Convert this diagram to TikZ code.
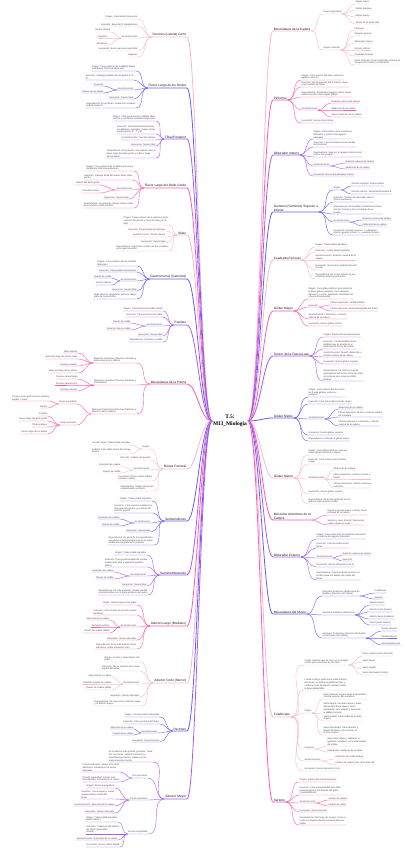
\documentclass[tikz,border=0pt]{standalone}
\usepackage{fontspec}
\setmainfont{Liberation Sans}
\newfontfamily\titlefont{Liberation Serif}
\usetikzlibrary{positioning, calc}

\definecolor{rosa}{HTML}{F5B8D4}
\definecolor{fucsia}{HTML}{FF5AAE}
\definecolor{morado}{HTML}{A65BF2}
\definecolor{violeta}{HTML}{6A5CF7}

% hoja a la izquierda / derecha: nombre, padre, posicion, color, texto
\newcommand{\izq}[5]{%
  \node[hoja, anchor=south east] (#1) at (#3) {#5};
  \draw[enlace=#4] (#2.south west) to[out=180, in=0] (#1.south east) -- (#1.south west);}
\newcommand{\der}[5]{%
  \node[hoja, anchor=south west] (#1) at (#3) {#5};
  \draw[enlace=#4] (#2.south east) to[out=0, in=180] (#1.south west) -- (#1.south east);}
% rama principal: nombre, y, color, texto
\newcommand{\ramaizq}[4]{%
  \node[rama, anchor=south east] (#1) at (187,#2) {#4};
  \draw[tronco=#3] (root.west) .. controls +(-12,0) and +(10,0) .. (#1.south east) -- (#1.south west);}
\newcommand{\ramader}[4]{%
  \node[rama, anchor=south west] (#1) at (273,#2) {#4};
  \draw[tronco=#3] (root.east) .. controls +(12,0) and +(-10,0) .. (#1.south west) -- (#1.south east);}

\begin{document}
\begin{tikzpicture}[x=1pt, y=-1pt,
    hoja/.style={inner sep=0.4pt, align=left, text=black!72, font=\fontsize{2.3}{2.8}\selectfont},
    rama/.style={inner sep=0.6pt, align=left, text=black!90, font=\fontsize{3.2}{3.8}\selectfont},
    enlace/.style={draw=#1, line width=0.4pt},
    tronco/.style={draw=#1, line width=0.8pt}
]
\fill[white] (0,0) rectangle (404,848);
\useasboundingbox (0,0) rectangle (404,848);

% Centro
\node[font=\titlefont\bfseries\fontsize{5.5}{6.6}\selectfont, align=center, inner sep=1pt] (root) at (230,421) {T.5:\\MI3\_Miología};

% ---------------- Lado izquierdo ----------------
% Peroneo corto
\ramaizq{pc}{37}{rosa}{Peroneo (Lateral) Corto}
\izq{pc1}{pc}{138,19}{rosa}{Origen: Cara lateral del peroné}
\izq{pc2}{pc}{138,26}{rosa}{Inserción: Base del 5º metatarsiano}
\izq{pc3}{pc}{138,38}{rosa}{Acción/Función}
\izq{pc3a}{pc3}{111,32}{rosa}{Flexión plantar}
\izq{pc3b}{pc3}{108,38}{rosa}{Eversión}
\izq{pc3c}{pc3}{108,45}{rosa}{Abducción}
\izq{pc4}{pc}{138,51}{rosa}{Inervación: Nervio peroneo superficial}
\izq{pc5}{pc}{138,57}{rosa}{Irrigación}

% Flexor largo de los dedos
\ramaizq{fd}{88}{violeta}{Flexor Largo de los Dedos}
\izq{fd1}{fd}{136,71}{violeta}{Origen: Cara posterior de la diáfisis tibial y\\membrana interósea adyacente}
\izq{fd2}{fd}{134,80}{violeta}{Inserción: Falanges distales de los dedos 2º al\\5º}
\izq{fd3}{fd}{134,90}{violeta}{Acción/Función}
\izq{fd3a}{fd3}{104,86}{violeta}{Inversión}
\izq{fd3b}{fd3}{104,93}{violeta}{Flexión de los dedos}
\izq{fd4}{fd}{134,99}{violeta}{Inervación: Nervio tibial}
\izq{fd5}{fd}{136,108}{violeta}{Dependencia: Es profundo, medial con respecto\\al tibial posterior}

% Tibial posterior
\ramaizq{tp}{139}{morado}{Tibial Posterior}
\izq{tp1}{tp}{156,121}{morado}{Origen: Cara posterior de la diáfisis tibial,\\peroné y membrana interósea adyacente}
\izq{tp2}{tp}{156,134}{morado}{Inserción: Tuberosidad del navicular,\\cuneiformes, cuboides y bases de los\\metatarsianos 2º, 3º y 4º}
\izq{tp3}{tp}{156,140}{morado}{Acción/Función: Inversión del pie}
\izq{tp4}{tp}{156,146}{morado}{Inervación: Nervio tibial}
\izq{tp5}{tp}{156,158}{morado}{Dependencia: Es profundo, encontrado entre el\\flexor largo del dedo gordo y el flexor largo\\de los dedos}

% Flexor largo del dedo gordo
\ramaizq{fg}{188}{fucsia}{Flexor Largo del Dedo Gordo}
\izq{fg1}{fg}{134,171}{fucsia}{Origen: Cara posterior de la diáfisis peronea y\\membrana interósea adyacente}
\izq{fg2}{fg}{133,180}{fucsia}{Inserción: Falange distal del primer dedo (dedo\\gordo)}
\izq{fg3}{fg}{133,190}{fucsia}{Acción/Función}
\izq{fg3a}{fg3}{100,185}{fucsia}{Flexión del dedo gordo}
\izq{fg3b}{fg3}{100,193}{fucsia}{Inversión del pie}
\izq{fg4}{fg}{129,199}{fucsia}{Inervación: Nervio tibial}
\izq{fg5}{fg}{134,208}{fucsia}{Dependencia: Es profundo, lateral al flexor largo\\de los dedos y tibial posterior}

% Soleo
\ramaizq{so}{235}{rosa}{Sóleo}
\izq{so1}{so}{169,225}{rosa}{Origen: Cara posterior de la cabeza y tercio\\superior del peroné y línea del sóleo en la\\tibia}
\izq{so2}{so}{166,231}{rosa}{Inserción: Tuberosidad del calcáneo}
\izq{so3}{so}{166,237}{rosa}{Acción/Función: Flexión plantar}
\izq{so4}{so}{166,243}{rosa}{Inervación: Nervio tibial}
\izq{so5}{so}{169,251}{rosa}{Dependencia: Superficial, oculto casi por completo\\por el gastrocnemio}

% Gastrocnemio
\ramaizq{ga}{279}{violeta}{Gastrocnemio (Gemelos)}
\izq{ga1}{ga}{137,266}{violeta}{Origen: Cara posterior de los cóndilos\\femorales}
\izq{ga2}{ga}{137,272}{violeta}{Inserción: Tuberosidad del calcáneo}
\izq{ga3}{ga}{137,281}{violeta}{Acción/Función}
\izq{ga3a}{ga3}{112,278}{violeta}{Flexión de rodilla}
\izq{ga3b}{ga3}{112,285}{violeta}{Flexión plantar}
\izq{ga4}{ga}{137,291}{violeta}{Inervación: Nervio tibial}
\izq{ga5}{ga}{137,299}{violeta}{Dependencia: Superficial, forma la mayor\\parte de la pantorrilla}

% Popliteo
\ramaizq{po}{325}{morado}{Poplíteo}
\izq{po1}{po}{163,311}{morado}{Origen: Cara lateral del cóndilo lateral}
\izq{po2}{po}{163,317}{morado}{Inserción: Cara posterior de la tibia}
\izq{po3}{po}{163,326}{morado}{Acción/Función}
\izq{po3a}{po3}{131,323}{morado}{Flexión de rodilla}
\izq{po3b}{po3}{131,330}{morado}{Rotación interna rodilla}
\izq{po4}{po}{163,336}{morado}{Inervación: Nervio tibial}
\izq{po5}{po}{163,342}{morado}{Dependencia: Profundo a rodilla}

% Musculatura de la pierna
\ramaizq{mp}{384}{fucsia}{Musculatura de la Pierna}
\izq{mp1}{mp}{137,363}{fucsia}{Músculos Anteriores (Flexores Dorsales y\\Extensores de los Dedos)}
\izq{mp1a}{mp1}{78,353}{fucsia}{Tibial anterior}
\izq{mp1b}{mp1}{78,359}{fucsia}{Extensor largo del primer dedo}
\izq{mp1c}{mp1}{78,366}{fucsia}{Peroneo anterior}
\izq{mp1d}{mp1}{78,373}{fucsia}{Extensor largo de los dedos}
\izq{mp2}{mp}{137,385}{fucsia}{Músculos Laterales (Flexores Plantares y\\Pronadores)}
\izq{mp2a}{mp2}{78,379}{fucsia}{Peroneo lateral largo}
\izq{mp2b}{mp2}{78,385}{fucsia}{Peroneo lateral corto}
\izq{mp2c}{mp2}{78,391}{fucsia}{Peroneo anterior}
\izq{mp3}{mp}{137,414}{fucsia}{Músculos Posteriores (Flexores Plantares y\\Flexores de los Dedos)}
\izq{mp3a}{mp3}{77,404}{fucsia}{Grupo superficial}
\izq{mp3a1}{mp3a}{50,401}{fucsia}{Tríceps sural: gastrocnemio lateral y\\medial + sóleo}
\izq{mp3a2}{mp3a}{48,408}{fucsia}{Plantar}
\izq{mp3b}{mp3}{77,425}{fucsia}{Grupo profundo}
\izq{mp3b1}{mp3b}{48,416}{fucsia}{Poplíteo}
\izq{mp3b2}{mp3b}{48,421}{fucsia}{Flexor largo del dedo gordo}
\izq{mp3b3}{mp3b}{48,427}{fucsia}{Tibial posterior}
\izq{mp3b4}{mp3b}{48,434}{fucsia}{Flexor largo de los dedos}

% Biceps femoral
\ramaizq{bf}{469}{rosa}{Bíceps Femoral}
\izq{bf1}{bf}{150,449}{rosa}{Origen}
\izq{bf1a}{bf1}{131,445}{rosa}{Porción larga: Tuberosidad isquiática}
\izq{bf1b}{bf1}{131,454}{rosa}{Cabeza corta: labio lateral de la línea\\áspera}
\izq{bf2}{bf}{151,460}{rosa}{Inserción: Cabeza del peroné}
\izq{bf3}{bf}{150,470}{rosa}{Acción/Función}
\izq{bf3a}{bf3}{121,466}{rosa}{Extensión de cadera}
\izq{bf3b}{bf3}{121,473}{rosa}{Flexión de rodilla}
\izq{bf4}{bf}{153,481}{rosa}{Inervación: Nervio ciático (tibial y\\peroneo común)}
\izq{bf5}{bf}{154,491}{rosa}{Dependencia: Región lateral del\\compartimento posterior}

% Semitendinoso
\ramaizq{st}{521}{violeta}{Semitendinoso}
\izq{st1}{st}{152,501}{violeta}{Origen: Tuberosidad isquiática}
\izq{st2}{st}{153,513}{violeta}{Inserción: Cara superior-medial de la\\tibia (pata de ganso), por detrás del\\sartorio y grácil}
\izq{st3}{st}{151,523}{violeta}{Acción/Función}
\izq{st3a}{st3}{120,519}{violeta}{Extensión de cadera}
\izq{st3b}{st3}{120,526}{violeta}{Flexión de rodilla}
\izq{st4}{st}{151,532}{violeta}{Inervación: Nervio tibial}
\izq{st5}{st}{154,545}{violeta}{Dependencia: Es parte de los isquiotibiales,\\superficial al semimembranoso en la región\\medial del compartimento posterior}

% Semimembranoso
\ramaizq{sm}{575}{morado}{Semimembranoso}
\izq{sm1}{sm}{147,555}{morado}{Origen: Tuberosidad isquiática}
\izq{sm2}{sm}{148,567}{morado}{Inserción: Cara posteromedial del cóndilo\\medial de la tibia y ligamento poplíteo\\oblicuo}
\izq{sm3}{sm}{147,576}{morado}{Acción/Función}
\izq{sm3a}{sm3}{114,572}{morado}{Extensión de cadera}
\izq{sm3b}{sm3}{114,579}{morado}{Flexión de rodilla}
\izq{sm4}{sm}{147,586}{morado}{Inervación: Nervio tibial}
\izq{sm5}{sm}{148,595}{morado}{Dependencia: Es más profundo, situado medial\\al semitendinoso en la parte posterior del muslo}

% Aductor largo
\ramaizq{al}{626}{fucsia}{Aductor Largo (Mediano)}
\izq{al1}{al}{137,605}{fucsia}{Origen: Rama superior del pubis}
\izq{al2}{al}{137,615}{fucsia}{Inserción: Tercio medio de la línea áspera\\del fémur}
\izq{al3}{al}{137,627}{fucsia}{Acción/Función}
\izq{al3a}{al3}{110,620}{fucsia}{Aducción de la cadera}
\izq{al3b}{al3}{110,627}{fucsia}{Rotación externa}
\izq{al3c}{al3}{110,633}{fucsia}{Flexión de cadera (débil)}
\izq{al4}{al}{137,640}{fucsia}{Inervación: Nervio obturador}
\izq{al5}{al}{137,649}{fucsia}{Dependencia: Es el más anterior de los\\aductores, cubre al aductor corto}

% Aductor corto
\ramaizq{ac}{683}{rosa}{Aductor Corto (Menor)}
\izq{ac1}{ac}{140,662}{rosa}{Origen: Cuerpo y rama inferior del\\pubis}
\izq{ac2}{ac}{140,671}{rosa}{Inserción: Tercio superior de la línea\\áspera del fémur}
\izq{ac3}{ac}{140,684}{rosa}{Acción/Función}
\izq{ac3a}{ac3}{112,677}{rosa}{Aducción de la cadera}
\izq{ac3b}{ac3}{112,684}{rosa}{Rotación externa de cadera}
\izq{ac3c}{ac3}{112,690}{rosa}{Flexión de cadera (débil)}
\izq{ac4}{ac}{140,697}{rosa}{Inervación: Nervio obturador}
\izq{ac5}{ac}{141,706}{rosa}{Dependencia: Se sitúa entre el aductor largo\\y el aductor mayor}

% Pectineo
\ramaizq{pe}{731}{violeta}{Pectíneo}
\izq{pe1}{pe}{160,717}{violeta}{Origen: Cresta pectínea del pubis}
\izq{pe2}{pe}{160,724}{violeta}{Inserción: Línea pectínea del fémur}
\izq{pe3}{pe}{158,733}{violeta}{Acción/Función}
\izq{pe3a}{pe3}{134,729}{violeta}{Aducción de la cadera}
\izq{pe3b}{pe3}{134,735}{violeta}{Flexión de la cadera}
\izq{pe4}{pe}{160,742}{violeta}{Inervación: Nervio femoral}

% Aductor mayor
\ramaizq{am}{799}{morado}{Aductor Mayor}
\izq{am1}{am}{153,762}{morado}{Es el aductor más grande y potente. Tiene\\dos porciones: aductora (anterior) e\\isquiotibial (posterior), unidas en una\\masa muscular común}
\izq{am2}{am}{148,778}{morado}{Dos porciones}
\izq{am2a}{am2}{120,772}{morado}{Porción aductora: similar a los otros\\aductores, inervada por el nervio\\obturador}
\izq{am2b}{am2}{120,782}{morado}{Porción isquiotibial: similar a los\\isquiotibiales, inervada por el ciático}
\izq{am3}{am}{148,800}{morado}{Porción Aductora}
\izq{am3a}{am3}{115,788}{morado}{Origen: Rama isquiopúbica}
\izq{am3b}{am3}{115,799}{morado}{Inserción: Línea áspera y cresta\\supracondílea medial del\\fémur}
\izq{am3c}{am3}{115,806}{morado}{Acción/Función: Aducción de la cadera}
\izq{am3d}{am3}{115,813}{morado}{Inervación: Nervio obturador}
\izq{am4}{am}{148,834}{morado}{Porción Isquiotibial}
\izq{am4a}{am4}{118,822}{morado}{Origen: Tuberosidad isquiática\\(parte inferior)}
\izq{am4b}{am4}{120,834}{morado}{Inserción: Tubérculo del aductor\\del fémur (epicóndilo\\medial)}
\izq{am4c}{am4}{118,840}{morado}{Acción/Función: Extensión de la cadera}
\izq{am4d}{am4}{120,847}{morado}{Inervación: Nervio ciático (tibial)}

% ---------------- Lado derecho ----------------
% Musculatura de la cadera
\ramader{mc}{31}{rosa}{Musculatura de la Cadera}
\der{mc1}{mc}{323,14}{rosa}{Grupo Superficial}
\der{mc1a}{mc1}{355,4}{rosa}{Glúteo mayor}
\der{mc1b}{mc1}{355,10}{rosa}{Glúteo mediano}
\der{mc1c}{mc1}{355,17}{rosa}{Glúteo menor}
\der{mc1d}{mc1}{355,24}{rosa}{Tensor de la fascia lata}
\der{mc2}{mc}{323,50}{rosa}{Grupo Profundo}
\der{mc2a}{mc2}{354,30}{rosa}{Piriforme}
\der{mc2b}{mc2}{354,36}{rosa}{Gemelo superior}
\der{mc2c}{mc2}{354,43}{rosa}{Obturador interno}
\der{mc2d}{mc2}{354,50}{rosa}{Gemelo inferior}
\der{mc2e}{mc2}{354,56}{rosa}{Cuadrado femoral}
\der{mc2f}{mc2}{354,65}{rosa}{Otros músculos (como obturador externo) se\\incluyen por función y localización}

% Piriforme
\ramader{pi}{100}{fucsia}{Piriforme}
\der{pi1}{pi}{301,80}{fucsia}{Origen: Cara anterior del sacro (entre los\\agujeros sacros)}
\der{pi2}{pi}{301,87}{fucsia}{Inserción: Borde superior del trocánter mayor\\(cara medial) del fémur}
\der{pi3}{pi}{301,97}{fucsia}{Dependencia: Atraviesa el agujero ciático mayor;\\referencia clave de la región glútea}
\der{pi4}{pi}{301,110}{fucsia}{Acción/Función}
\der{pi4a}{pi4}{331,103}{fucsia}{Rotación externa de cadera}
\der{pi4b}{pi4}{331,110}{fucsia}{Abducción de la cadera}
\der{pi4c}{pi4}{331,117}{fucsia}{Ligera extensión de la cadera}
\der{pi5}{pi}{301,123}{fucsia}{Inervación: Nervio del piriforme}

% Obturador interno
\ramader{oi}{155}{morado}{Obturador Interno}
\der{oi1}{oi}{313,139}{morado}{Origen: Cara interna de la membrana\\obturatriz y contorno del agujero\\obturador}
\der{oi2}{oi}{313,147}{morado}{Inserción: Fosa trocantérea (cara medial\\del trocánter)}
\der{oi3}{oi}{313,157}{morado}{Dependencia: Sale por el agujero ciático menor\\junto a los gemelos}
\der{oi4}{oi}{313,166}{morado}{Acción/Función}
\der{oi4a}{oi4}{345,163}{morado}{Rotación externa de cadera}
\der{oi4b}{oi4}{345,169}{morado}{Abducción de la cadera}
\der{oi5}{oi}{313,176}{morado}{Inervación: Nervio del obturador interno}

% Gemelos
\ramader{ge}{212}{violeta}{Gemelos (Géminos) Superior e\\Inferior}
\der{ge1}{ge}{333,190}{violeta}{Origen}
\der{ge1a}{ge1}{351,186}{violeta}{Gemelo superior: espina ciática}
\der{ge1b}{ge1}{351,194}{violeta}{Gemelo inferior: tuberosidad isquiática}
\der{ge2}{ge}{333,202}{violeta}{Inserción: Tendón del obturador interno\\(fosa trocantérea)}
\der{ge3}{ge}{333,214}{violeta}{Dependencia: Acompañan al obturador interno,\\uno por encima y otro por debajo de su\\tendón}
\der{ge4}{ge}{333,222}{violeta}{Acción/Función}
\der{ge4a}{ge4}{362,220}{violeta}{Rotación externa de cadera}
\der{ge4b}{ge4}{362,226}{violeta}{Abducción de la cadera}
\der{ge5}{ge}{333,235}{violeta}{Inervación: Gemelo superior: n. obturador\\interno; gemelo inferior: n. cuadrado femoral}

% Cuadrado femoral
\ramader{cf}{260}{rosa}{Cuadrado Femoral}
\der{cf1}{cf}{315,247}{rosa}{Origen: Tuberosidad isquiática}
\der{cf2}{cf}{315,252}{rosa}{Inserción: Cresta intertrocantérea}
\der{cf3}{cf}{315,260}{rosa}{Acción/Función: Rotación externa de la\\cadera}
\der{cf4}{cf}{315,270}{rosa}{Inervación: Nervio del cuadrado femoral\\(L4-S1)}
\der{cf5}{cf}{315,279}{rosa}{Dependencia: Es el más inferior de los\\rotadores externos profundos}

% Gluteo mayor
\ramader{gm}{311}{fucsia}{Glúteo Mayor}
\der{gm1}{gm}{308,299}{fucsia}{Origen: Cara glútea del ilion (por detrás de\\la línea glútea posterior), cara posterior\\del sacro y cóccix, ligamento sacrotuberoso\\y fascia toracolumbar}
\der{gm2}{gm}{308,307}{fucsia}{Inserción}
\der{gm2a}{gm2}{330,305}{fucsia}{Fibras superiores: cintilla iliotibial}
\der{gm2b}{gm2}{330,311}{fucsia}{Fibras inferiores: tuberosidad glútea del fémur}
\der{gm3}{gm}{308,319}{fucsia}{Acción/Función: Extensión y rotación\\externa de la cadera}
\der{gm4}{gm}{308,326}{fucsia}{Inervación: Nervio glúteo inferior}

% Tensor de la fascia lata
\ramader{tf}{356}{morado}{Tensor de la Fascia Lata}
\der{tf1}{tf}{323,337}{morado}{Origen: Espina ilíaca anterosuperior}
\der{tf2}{tf}{323,349}{morado}{Inserción: Cintilla iliotibial (tracto\\iliotibial) que se inserta en el\\tubérculo de Gerdy de la tibia}
\der{tf3}{tf}{323,357}{morado}{Acción/Función: Flexión, abducción y\\rotación interna de la cadera}
\der{tf4}{tf}{323,364}{morado}{Inervación: Nervio glúteo superior}
\der{tf5}{tf}{323,381}{morado}{Dependencia: Se sitúa en la parte\\anterolateral del muslo, entre las hojas\\de la fascia lata; tensa la cintilla\\iliotibial}

% Gluteo medio
\ramader{gd}{418}{violeta}{Glúteo Medio}
\der{gd1}{gd}{308,397}{violeta}{Origen: Cara externa del ilion entre\\las líneas glúteas anterior y\\posterior}
\der{gd2}{gd}{308,404}{violeta}{Inserción: Cara lateral del trocánter mayor}
\der{gd3}{gd}{308,419}{violeta}{Acción/Función}
\der{gd3a}{gd3}{338,409}{violeta}{Abducción de la cadera}
\der{gd3b}{gd3}{338,417}{violeta}{Fibras anteriores: flexión y rotación interna\\de la cadera}
\der{gd3c}{gd3}{338,426}{violeta}{Fibras posteriores: extensión y rotación\\externa de la cadera}
\der{gd4}{gd}{308,435}{violeta}{Inervación: Nervio glúteo superior}
\der{gd5}{gd}{308,441}{violeta}{Dependencia: Profundo al glúteo mayor}

% Gluteo menor
\ramader{gn}{478}{rosa}{Glúteo Menor}
\der{gn1}{gn}{308,455}{rosa}{Origen: Cara glútea del ilion, entre las\\líneas glúteas anterior e inferior}
\der{gn2}{gn}{308,464}{rosa}{Inserción: Cara anterior del trocánter\\mayor}
\der{gn3}{gn}{308,479}{rosa}{Acción/Función}
\der{gn3a}{gn3}{333,470}{rosa}{Abducción de cadera}
\der{gn3b}{gn3}{333,479}{rosa}{Fibras anteriores: rotación interna y\\flexión}
\der{gn3c}{gn3}{333,488}{rosa}{Fibras posteriores: rotación externa y\\extensión}
\der{gn4}{gn}{308,494}{rosa}{Inervación: Nervio glúteo superior}
\der{gn5}{gn}{308,504}{rosa}{Dependencia: Es el más profundo de los\\glúteos, bajo el glúteo medio}

% Musculos anteriores de la cadera
\ramader{ma}{520}{fucsia}{Músculos Anteriores de la\\Cadera}
\der{ma1}{ma}{327,515}{fucsia}{Iliopsoas (psoas mayor e ilíaco): flexor\\principal de la cadera}
\der{ma2}{ma}{327,525}{fucsia}{Sartorio y recto femoral: flexores de\\cadera desde el muslo}

% Obturador externo
\ramader{oe}{557}{morado}{Obturador Externo}
\der{oe1}{oe}{316,539}{morado}{Origen: Cara externa de la membrana obturatriz\\y contorno del agujero obturador}
\der{oe2}{oe}{316,548}{morado}{Inserción: Fosa trocantérea del\\fémur}
\der{oe3}{oe}{316,558}{morado}{Acción/Función}
\der{oe3a}{oe3}{342,555}{morado}{Rotación externa de cadera}
\der{oe3b}{oe3}{342,561}{morado}{Aducción}
\der{oe4}{oe}{316,567}{morado}{Inervación: Nervio obturador (L3-L4)}
\der{oe5}{oe}{316,580}{morado}{Dependencia: Grupo profundo anterior; su\\tendón pasa por debajo del cuello del\\fémur}

% Musculatura del muslo
\ramader{mm}{614}{violeta}{Musculatura del Muslo}
\der{mm1}{mm}{322,596}{violeta}{Músculos Anteriores (Extensores de\\Rodilla y Flexores de Cadera)}
\der{mm1a}{mm1}{374,593}{violeta}{Cuádriceps}
\der{mm1b}{mm1}{374,599}{violeta}{Sartorio}
\der{mm2}{mm}{322,615}{violeta}{Músculos Mediales (Aductores)}
\der{mm2a}{mm2}{369,605}{violeta}{Aductor mayor}
\der{mm2b}{mm2}{369,612}{violeta}{Aductor corto (menor)}
\der{mm2c}{mm2}{369,619}{violeta}{Aductor largo (mediano)}
\der{mm2d}{mm2}{369,625}{violeta}{Grácil (recto interno)}
\der{mm3}{mm}{322,638}{violeta}{Músculos Posteriores (Flexores de Rodilla\\y Extensores de Cadera)}
\der{mm3a}{mm3}{381,631}{violeta}{Bíceps femoral}
\der{mm3b}{mm3}{381,638}{violeta}{Semitendinoso}
\der{mm3c}{mm3}{381,645}{violeta}{Semimembranoso}

% Cuadriceps
\ramader{cu}{717}{rosa}{Cuádriceps}
\der{cu1}{cu}{304,665}{rosa}{Cuatro cabezas que se unen en un tendón\\común para insertarse en la rótula}
\der{cu1a}{cu1}{362,656}{rosa}{Recto anterior (recto femoral)}
\der{cu1b}{cu1}{362,662}{rosa}{Vasto lateral}
\der{cu1c}{cu1}{362,669}{rosa}{Vasto medial}
\der{cu1d}{cu1}{362,675}{rosa}{Vasto intermedio (crural)}
\der{cu2}{cu}{304,690}{rosa}{Forma la mayor parte de la masa anterior\\del muslo; su tendón engloba la rótula y\\continúa como ligamento rotuliano hasta\\la tuberosidad tibial}
\der{cu3}{cu}{304,713}{rosa}{Origen}
\der{cu3a}{cu3}{323,699}{rosa}{Recto femoral: espina ilíaca anteroinferior\\y borde superior del acetábulo}
\der{cu3b}{cu3}{323,714}{rosa}{Vasto lateral: trocánter mayor y labio\\lateral de la línea áspera; vasto\\intermedio: cara anterior y lateral de\\la diáfisis femoral}
\der{cu3c}{cu3}{323,721}{rosa}{Vasto medial: labio medial de la línea\\áspera}
\der{cu3d}{cu3}{323,735}{rosa}{Vasto intermedio: caras anterior y\\lateral del fémur; sin inserción en\\la línea áspera}
\der{cu4}{cu}{304,749}{rosa}{Inserción}
\der{cu4a}{cu4}{327,746}{rosa}{Base de la rótula y, mediante el\\ligamento rotuliano, en la tuberosidad\\de la tibia}
\der{cu4b}{cu4}{327,752}{rosa}{Retináculos rotulianos de la rótula}
\der{cu5}{cu}{304,761}{rosa}{Acción/Función}
\der{cu5a}{cu5}{335,759}{rosa}{Extensión de rodilla (todos)}
\der{cu5b}{cu5}{335,765}{rosa}{Flexión de cadera (solo recto femoral)}
\der{cu6}{cu}{304,771}{rosa}{Inervación: Nervio femoral (L2-L4)}

% Sartorio
\ramader{sa}{802}{fucsia}{Sartorio}
\der{sa1}{sa}{299,782}{fucsia}{Origen: Espina ilíaca anterosuperior}
\der{sa2}{sa}{299,795}{fucsia}{Inserción: Cara superomedial de la tibia\\(pata de ganso), por delante del grácil\\y semitendinoso}
\der{sa3}{sa}{299,803}{fucsia}{Acción/Función}
\der{sa3a}{sa3}{328,800}{fucsia}{Flexión de cadera}
\der{sa3b}{sa3}{328,806}{fucsia}{Flexión de rodilla}
\der{sa4}{sa}{299,812}{fucsia}{Inervación: Nervio femoral}
\der{sa5}{sa}{299,825}{fucsia}{Dependencia: Más largo del cuerpo; cruza el\\muslo en diagonal desde la cadera hasta la\\rodilla}
\end{tikzpicture}
\end{document}
